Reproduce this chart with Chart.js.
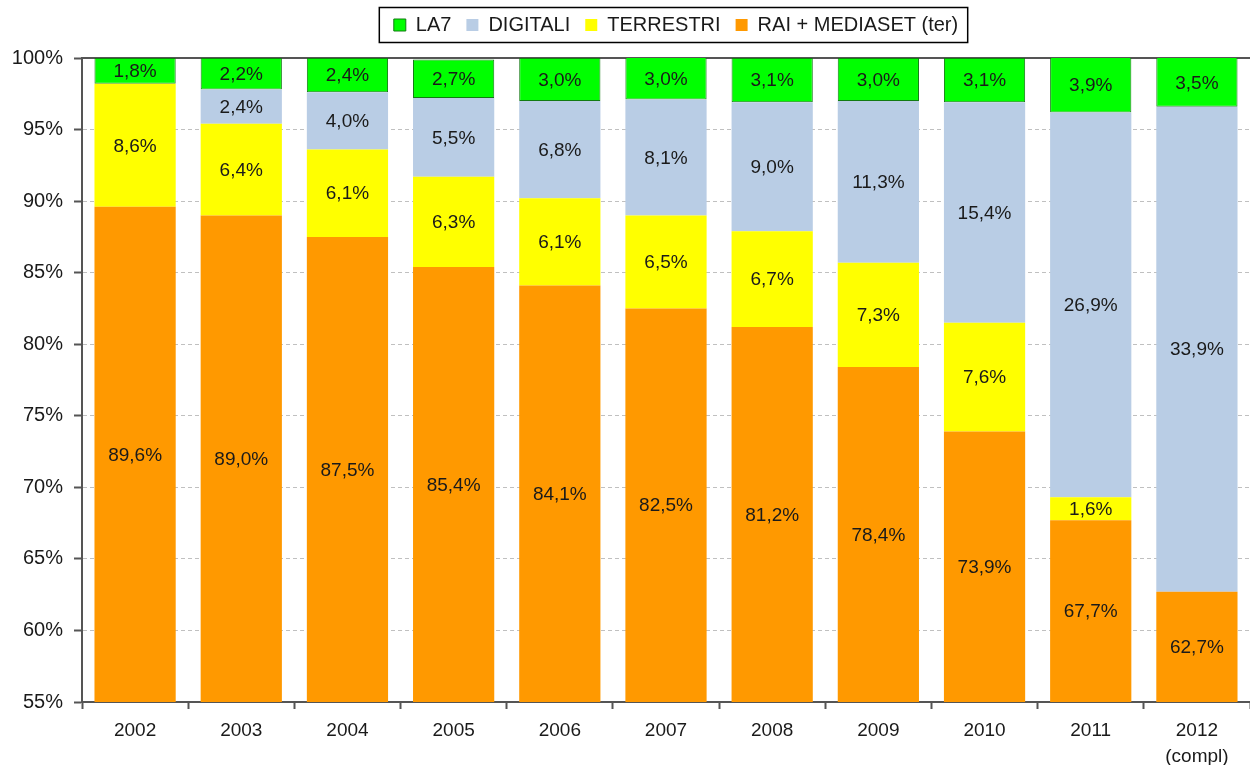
<!DOCTYPE html>
<html>
<head>
<meta charset="utf-8">
<script src="https://cdn.jsdelivr.net/npm/chart.js@4.4.1/dist/chart.umd.min.js"></script>
<style>
  html, body { margin: 0; padding: 0; background: #fff; }
  #wrap { width: 1250px; height: 765px; position: relative; }
</style>
</head>
<body>
<div id="wrap"><canvas id="chart"></canvas></div>
<script>
const years = ['2002', '2003', '2004', '2005', '2006', '2007', '2008', '2009', '2010', '2011', ['2012', '(compl)']]
const raiMediaset = [89.6, 89.0, 87.5, 85.4, 84.1, 82.5, 81.2, 78.4, 73.9, 67.7, 62.7]
const terrestri = [8.6, 6.4, 6.1, 6.3, 6.1, 6.5, 6.7, 7.3, 7.6, 1.6, null]
const digitali = [null, 2.4, 4.0, 5.5, 6.8, 8.1, 9.0, 11.3, 15.4, 26.9, 33.9]
const la7 = [1.8, 2.2, 2.4, 2.7, 3.0, 3.0, 3.1, 3.0, 3.1, 3.9, 3.5]
const yTicks = [55, 60, 65, 70, 75, 80, 85, 90, 95, 100]

const FONT = "'Liberation Sans', Arial, sans-serif"
const TEXT = '#1a1a1a'
const AXIS = '#555555'

const fmt = v => v.toFixed(1).replace('.', ',') + '%'

// labels in the middle of the visible part of each segment
const segmentLabels = {
  id: 'segmentLabels',
  afterDatasetsDraw(chart) {
    const { ctx, chartArea } = chart
    ctx.save()
    ctx.font = '19px ' + FONT
    ctx.fillStyle = TEXT
    ctx.textAlign = 'center'
    ctx.textBaseline = 'middle'
    chart.data.datasets.forEach((ds, di) => {
      chart.getDatasetMeta(di).data.forEach((bar, i) => {
        const v = ds.data[i]
        if (v === null || v === undefined) return
        const top = Math.max(Math.min(bar.y, bar.base), chartArea.top)
        const bottom = Math.min(Math.max(bar.y, bar.base), chartArea.bottom)
        ctx.fillText(fmt(v), bar.x, (top + bottom) / 2 + 1)
      })
    })
    ctx.restore()
  }
}

// top frame line, legend shift and legend border
const frame = {
  id: 'frame',
  afterLayout(chart) {
    const lg = chart.legend
    lg.top -= 13
    lg.bottom -= 13
    lg.left += 10
    lg.right += 10
  },
  beforeDatasetsDraw(chart) {
    const { ctx, chartArea } = chart
    ctx.save()
    ctx.strokeStyle = AXIS
    ctx.lineWidth = 2
    ctx.beginPath()
    ctx.moveTo(chartArea.left, chartArea.top)
    ctx.lineTo(chartArea.right, chartArea.top)
    ctx.stroke()
    ctx.restore()
  },
  afterDraw(chart) {
    const { ctx } = chart
    const boxes = chart.legend.legendHitBoxes
    if (!boxes || !boxes.length) return
    const first = boxes[0]
    const last = boxes[boxes.length - 1]
    ctx.save()
    ctx.strokeStyle = '#000'
    ctx.lineWidth = 1.5
    ctx.strokeRect(first.left - 14.5, 7.5, last.left + last.width - first.left + 24, 35)
    ctx.restore()
  }
}

new Chart(document.getElementById('chart'), {
  type: 'bar',
  data: {
    labels: years,
    datasets: [
      {
        label: 'RAI + MEDIASET (ter)',
        data: raiMediaset,
        backgroundColor: '#ff9900',
        borderWidth: 0
      },
      {
        label: 'TERRESTRI',
        data: terrestri,
        backgroundColor: '#ffff00',
        borderWidth: 0
      },
      {
        label: 'DIGITALI',
        data: digitali,
        backgroundColor: '#b9cde5',
        borderWidth: 0
      },
      {
        label: 'LA7',
        data: la7,
        backgroundColor: '#00ff00',
        borderColor: '#127a12',
        borderWidth: 1,
        borderSkipped: false
      }
    ]
  },
  options: {
    responsive: true,
    maintainAspectRatio: false,
    animation: false,
    layout: {
      padding: { top: 13, left: 0, right: 0, bottom: 0 }
    },
    datasets: {
      bar: {
        categoryPercentage: 1,
        barPercentage: 0.765
      }
    },
    scales: {
      x: {
        stacked: true,
        grid: {
          drawOnChartArea: false,
          drawTicks: true,
          tickLength: 7,
          tickColor: AXIS,
          tickWidth: 2
        },
        border: { color: AXIS, width: 2 },
        ticks: {
          color: TEXT,
          padding: 9,
          font: { family: FONT, size: 19, lineHeight: 1.35 },
          maxRotation: 0,
          autoSkip: false
        },
        afterFit: scale => {
          scale.height = 63
        }
      },
      y: {
        stacked: true,
        min: 55,
        max: 100,
        afterBuildTicks: scale => {
          scale.ticks = yTicks.map(v => ({ value: v }))
        },
        grid: {
          color: ctx => (ctx.tick && (ctx.tick.value === 55 || ctx.tick.value === 100)) ? 'rgba(0,0,0,0)' : '#c0c0c0',
          lineWidth: 1,
          tickLength: 8,
          tickColor: AXIS,
          tickWidth: 2,
          tickBorderDash: []
        },
        border: { color: AXIS, width: 2, dash: [4, 3] },
        ticks: {
          color: TEXT,
          padding: 11,
          font: { family: FONT, size: 20 },
          callback: v => v + '%'
        },
        afterFit: scale => {
          scale.width = 82
        }
      }
    },
    plugins: {
      legend: {
        position: 'top',
        fullSize: false,
        reverse: true,
        labels: {
          color: TEXT,
          boxWidth: 12,
          boxHeight: 12,
          padding: 15,
          font: { family: FONT, size: 20 }
        }
      },
      tooltip: { enabled: false }
    }
  },
  plugins: [segmentLabels, frame]
})
</script>
</body>
</html>
